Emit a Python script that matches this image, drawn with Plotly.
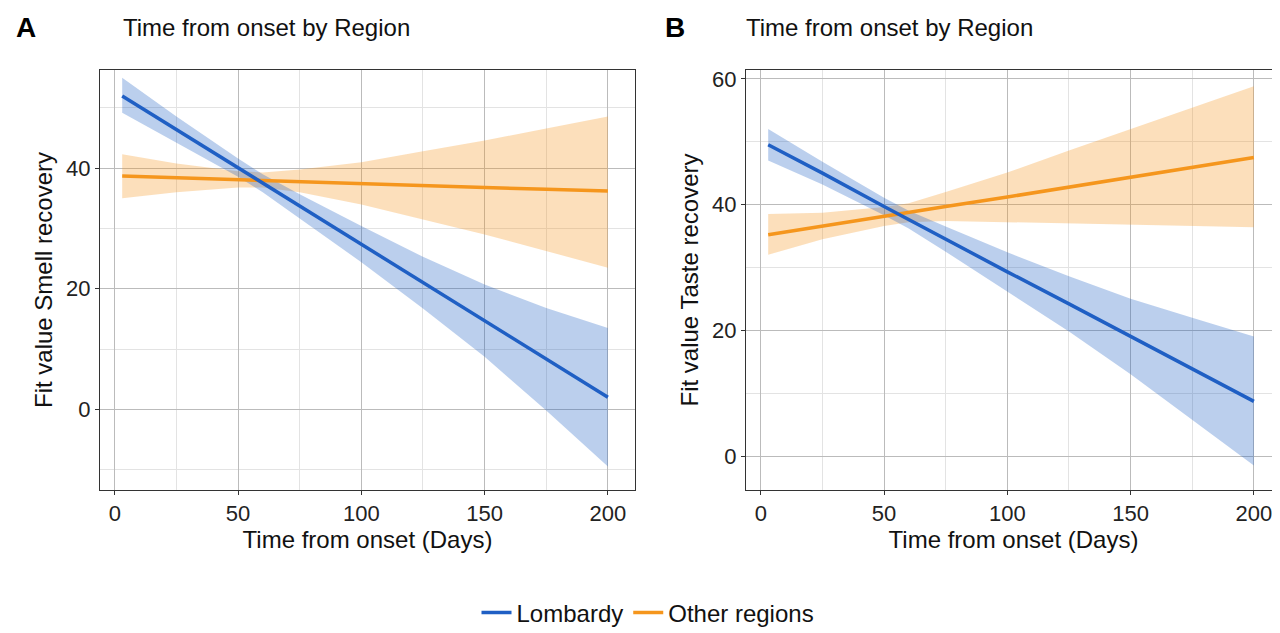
import plotly.graph_objects as go
from plotly.subplots import make_subplots

days = [3, 25, 50, 60, 75, 100, 125, 150, 175, 200]

# panel A - smell
smell_lomb = [52.0, 46.4, 40.1, 37.5, 33.7, 27.4, 21.0, 14.7, 8.3, 2.0]
smell_lomb_lo = [49.2, 44.3, 38.6, 36.0, 31.7, 24.4, 16.7, 8.7, -0.2, -9.5]
smell_lomb_hi = [55.0, 48.6, 41.6, 39.0, 35.7, 30.4, 25.3, 20.7, 16.8, 13.5]
smell_oth = [38.7, 38.4, 38.1, 38.0, 37.8, 37.5, 37.1, 36.8, 36.5, 36.2]
smell_oth_lo = [35.0, 36.0, 36.8, 36.8, 36.0, 34.0, 31.5, 29.0, 26.3, 23.5]
smell_oth_hi = [42.3, 40.8, 39.5, 39.3, 39.8, 41.0, 42.8, 44.6, 46.6, 48.6]

# panel B - taste
taste_lomb = [49.5, 45.0, 39.7, 37.6, 34.5, 29.3, 24.2, 19.0, 13.9, 8.7]
taste_lomb_lo = [47.0, 43.2, 38.3, 36.2, 32.5, 26.2, 19.8, 13.0, 5.8, -1.5]
taste_lomb_hi = [52.0, 46.8, 41.1, 39.0, 36.5, 32.4, 28.6, 25.0, 22.0, 19.0]
taste_oth = [35.2, 36.6, 38.1, 38.7, 39.7, 41.2, 42.8, 44.4, 45.9, 47.5]
taste_oth_lo = [32.0, 34.5, 36.6, 37.2, 37.4, 37.3, 37.0, 36.8, 36.6, 36.4]
taste_oth_hi = [38.5, 38.7, 39.6, 40.2, 42.0, 45.1, 48.6, 52.0, 55.4, 58.8]

blue = "#1f5fc4"
orange = "#f5961d"
blue_fill = "rgba(31,95,196,0.3)"
orange_fill = "rgba(245,150,29,0.3)"

fig = make_subplots(rows=1, cols=2)


def add_band(x, lo, hi, fill, col):
    fig.add_trace(go.Scatter(x=x + x[::-1], y=hi + lo[::-1], fill="toself", fillcolor=fill,
                             line=dict(width=0), hoverinfo="skip", showlegend=False), row=1, col=col)


panels = [
    (smell_lomb, smell_lomb_lo, smell_lomb_hi, smell_oth, smell_oth_lo, smell_oth_hi),
    (taste_lomb, taste_lomb_lo, taste_lomb_hi, taste_oth, taste_oth_lo, taste_oth_hi),
]
for i, (l, llo, lhi, o, olo, ohi) in enumerate(panels, start=1):
    add_band(days, olo, ohi, orange_fill, i)
    add_band(days, llo, lhi, blue_fill, i)
    fig.add_trace(go.Scatter(x=days, y=o, mode="lines", line=dict(color=orange, width=3.5),
                             name="Other regions", showlegend=False), row=1, col=i)
    fig.add_trace(go.Scatter(x=days, y=l, mode="lines", line=dict(color=blue, width=3.5),
                             name="Lombardy", showlegend=(i == 1), legendrank=1), row=1, col=i)
fig.add_trace(go.Scatter(x=[None], y=[None], mode="lines", line=dict(color=orange, width=3.5),
                         name="Other regions", legendrank=2))

axis_style = dict(showline=True, linecolor="#333", mirror=True, gridcolor="#bbbbbb", gridwidth=1,
                  ticks="outside", ticklen=4, tickcolor="#333", zeroline=False,
                  tickfont=dict(size=22, color="#222"))
minor = dict(showgrid=True, gridcolor="#e3e3e3")
ydom = [151 / 633, 571 / 633]
fig.update_xaxes(**axis_style, range=[-6, 211], dtick=50, minor=dict(dtick=25, **minor),
                 title=dict(text="Time from onset (Days)", font=dict(size=24, color="#111"), standoff=2))
fig.update_xaxes(domain=[92 / 1280, 627 / 1280], row=1, col=1)
fig.update_xaxes(domain=[738 / 1280, 1273 / 1280], row=1, col=2)
fig.update_yaxes(**axis_style, minor=dict(**minor), domain=ydom)
fig.update_yaxes(range=[-13.4, 56.3], dtick=20, minor_dtick=10, row=1, col=1,
                 title=dict(text="Fit value Smell recovery", font=dict(size=24, color="#111"), standoff=6))
fig.update_yaxes(range=[-5.4, 61.4], dtick=20, minor_dtick=10, row=1, col=2,
                 title=dict(text="Fit value Taste recovery", font=dict(size=24, color="#111"), standoff=6))

for xr, letter in [(0.005, "A"), (0.512, "B")]:
    fig.add_annotation(x=xr, y=(633 - 20) / 633, xref="paper", yref="paper", text="<b>%s</b>" % letter,
                       showarrow=False, xanchor="left", yanchor="middle", font=dict(size=28, color="#000"))
for xr in [0.088, 0.575]:
    fig.add_annotation(x=xr, y=(633 - 20) / 633, xref="paper", yref="paper", text="Time from onset by Region",
                       showarrow=False, xanchor="left", yanchor="middle", font=dict(size=24, color="#111"))

fig.update_layout(
    width=1280, height=633, plot_bgcolor="white", paper_bgcolor="white",
    font=dict(family="Liberation Sans, Arial, sans-serif"),
    margin=dict(l=0, r=0, t=0, b=0, autoexpand=False),
    legend=dict(orientation="h", x=0.5, xanchor="center", y=28 / 633, yanchor="middle",
                font=dict(size=24, color="#111")),
)
fig.write_html("out.html")
